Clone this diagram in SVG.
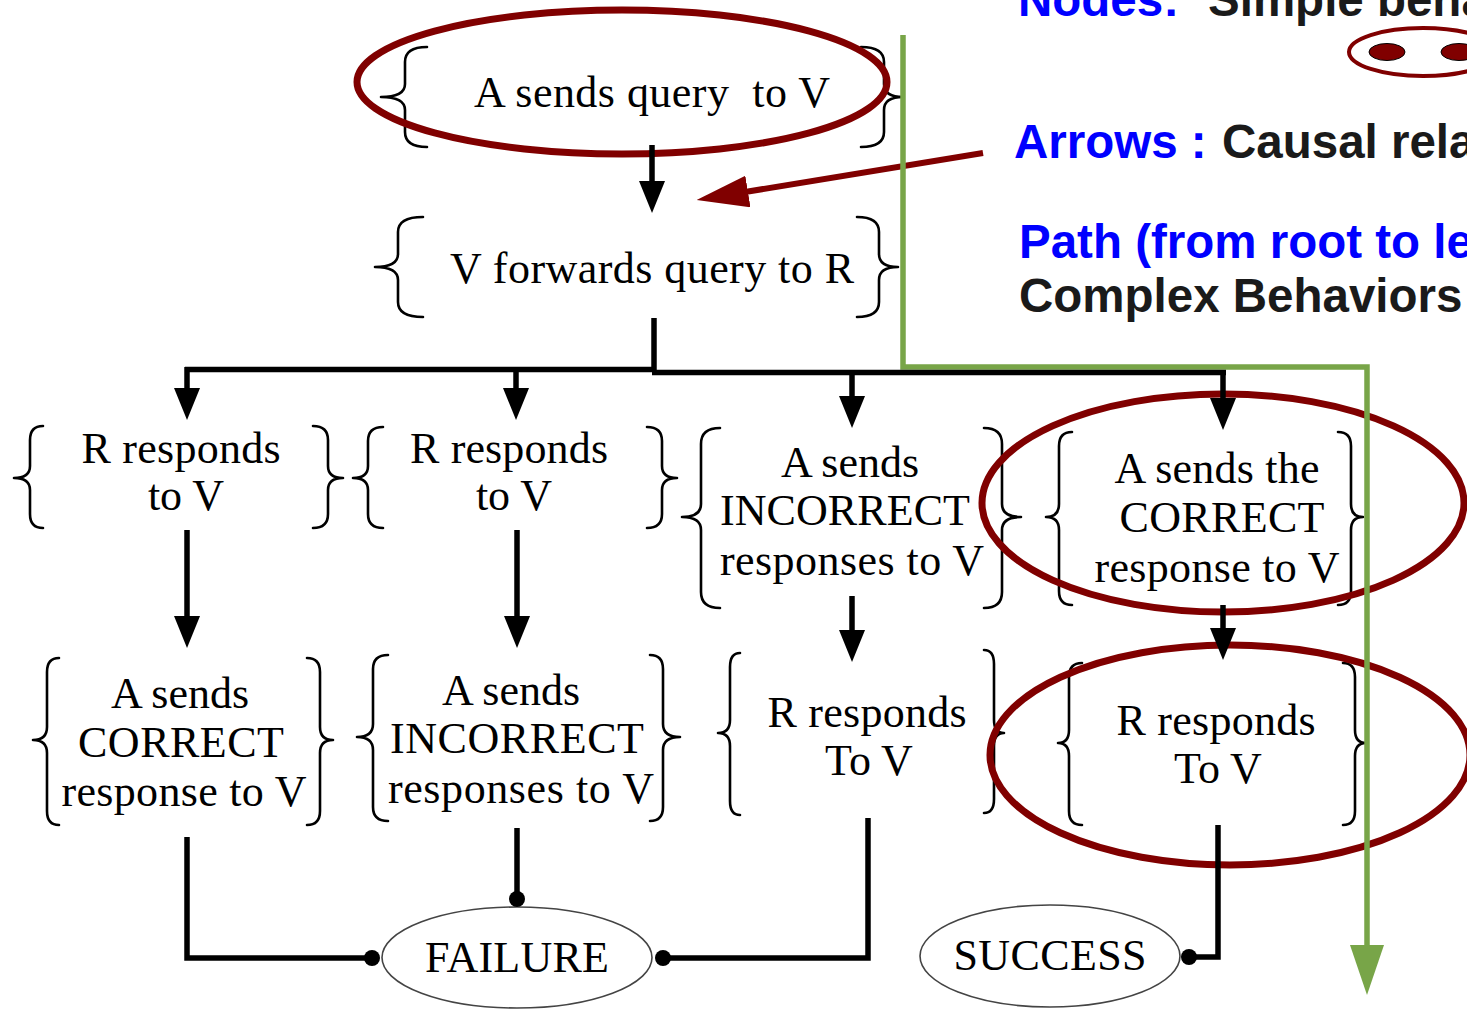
<svg xmlns="http://www.w3.org/2000/svg" width="1467" height="1009" viewBox="0 0 1467 1009">
  <style>
    .lbl { font-family: "Liberation Serif", "Times New Roman", serif; font-size: 44px; fill: #000; text-anchor: middle; }
    .brace { fill: none; stroke: #000; stroke-width: 2.6; stroke-linecap: round; stroke-linejoin: round; }
    .edge { fill: none; stroke: #000; stroke-width: 5.5; }
    .arrow { marker-end: url(#head); }
    .term { fill: #fff; stroke: #444; stroke-width: 1.6; }
    .dot { fill: #000; }
    .ring { fill: none; stroke: #800000; stroke-width: 7; }
    .key { font-family: "Liberation Sans", Arial, sans-serif; font-weight: bold; font-size: 47.5px; }
    .blue { fill: #0000ff; }
    .dark { fill: #1a1a1a; }
  </style>
  <defs>
    <marker id="head" markerUnits="userSpaceOnUse" markerWidth="32" markerHeight="26" viewBox="0 0 32 26" refX="4" refY="13" orient="auto">
      <path d="M0,0 L32,13 L0,26 Z" fill="#000"/>
    </marker>
    <marker id="redhead" markerUnits="userSpaceOnUse" markerWidth="52" markerHeight="32" viewBox="0 0 52 32" refX="6" refY="16" orient="auto">
      <path d="M0,0 L52,16 L0,32 Z" fill="#800000"/>
    </marker>
    <marker id="greenhead" markerUnits="userSpaceOnUse" markerWidth="50" markerHeight="34" viewBox="0 0 50 34" refX="4" refY="17" orient="auto">
      <path d="M0,0 L50,17 L0,34 Z" fill="#78a548"/>
    </marker>
  </defs>

  <rect width="1467" height="1009" fill="#fff"/>

  <!-- legend -->
  <g id="legend">
    <text class="key blue" x="1018" y="16">Nodes:</text>
    <text class="key dark" x="1208" y="16">Simple beha</text>
    <ellipse cx="1423" cy="52" rx="74" ry="24" fill="none" stroke="#800000" stroke-width="4"/>
    <ellipse cx="1387" cy="52" rx="18" ry="8.5" fill="#800000" stroke="#000" stroke-width="1"/>
    <ellipse cx="1459" cy="52" rx="18" ry="8.5" fill="#800000" stroke="#000" stroke-width="1"/>
    <text class="key blue" x="1014" y="158">Arrows :</text>
    <text class="key dark" x="1222" y="158">Causal rela</text>
    <text class="key blue" x="1019" y="258">Path (from root to le</text>
    <text class="key dark" x="1019" y="312">Complex Behaviors</text>
  </g>

  <!-- nodes -->
  <g id="n-query">
    <path class="brace" d="M427,47 Q405,47 405,62 L405,84 Q405,97 381,97 Q405,97 405,110 L405,132 Q405,147 427,147"/>
    <path class="brace" d="M861,47 Q884,47 884,62 L884,84 Q884,97 903,97 Q884,97 884,110 L884,132 Q884,147 861,147"/>
    <text class="lbl" x="652" y="107" textLength="356" xml:space="preserve">A sends query  to V</text>
  </g>

  <g id="n-forward">
    <path class="brace" d="M423,217 Q398,217 398,232 L398,254 Q398,267 375,267 Q398,267 398,280 L398,302 Q398,317 423,317"/>
    <path class="brace" d="M857,217 Q879,217 879,232 L879,254 Q879,267 898,267 Q879,267 879,280 L879,302 Q879,317 857,317"/>
    <text class="lbl" x="652" y="283" textLength="404">V forwards query to R</text>
  </g>

  <g id="n-resp-a">
    <path class="brace" d="M43,426 Q30,426 30,440 L30,466 Q30,478 14,478 Q30,478 30,490 L30,514 Q30,528 43,528"/>
    <path class="brace" d="M313,426 Q328,426 328,440 L328,466 Q328,478 343,478 Q328,478 328,490 L328,514 Q328,528 313,528"/>
    <text class="lbl" x="181" y="463" textLength="199">R responds</text>
    <text class="lbl" x="186" y="510">to V</text>
  </g>

  <g id="n-resp-b">
    <path class="brace" d="M383,427 Q368,427 368,441 L368,466 Q368,478 353,478 Q368,478 368,490 L368,514 Q368,528 383,528"/>
    <path class="brace" d="M647,427 Q662,427 662,441 L662,466 Q662,478 677,478 Q662,478 662,490 L662,514 Q662,528 647,528"/>
    <text class="lbl" x="509" y="463" textLength="198">R responds</text>
    <text class="lbl" x="514" y="510">to V</text>
  </g>

  <g id="n-incorrect-a">
    <path class="brace" d="M720,428 Q701,428 701,444 L701,504 Q701,517 682,517 Q701,517 701,530 L701,592 Q701,608 720,608"/>
    <path class="brace" d="M984,428 Q1002,428 1002,444 L1002,504 Q1002,517 1021,517 Q1002,517 1002,530 L1002,592 Q1002,608 984,608"/>
    <text class="lbl" x="850" y="477">A sends</text>
    <text class="lbl" x="845" y="525" textLength="250">INCORRECT</text>
    <text class="lbl" x="852" y="575" textLength="264">responses to V</text>
  </g>

  <g id="n-correct-a">
    <path class="brace" d="M1072,432 Q1059,432 1059,446 L1059,504 Q1059,517 1046,517 Q1059,517 1059,530 L1059,591 Q1059,605 1072,605"/>
    <path class="brace" d="M1338,432 Q1351,432 1351,446 L1351,504 Q1351,517 1363,517 Q1351,517 1351,530 L1351,591 Q1351,605 1338,605"/>
    <text class="lbl" x="1217" y="483" textLength="205">A sends the</text>
    <text class="lbl" x="1222" y="532" textLength="205">CORRECT</text>
    <text class="lbl" x="1217" y="582" textLength="245">response to V</text>
  </g>

  <g id="n-correct-b">
    <path class="brace" d="M59,658 Q47,658 47,672 L47,727 Q47,740 33,740 Q47,740 47,753 L47,811 Q47,825 59,825"/>
    <path class="brace" d="M307,658 Q320,658 320,672 L320,727 Q320,740 333,740 Q320,740 320,753 L320,811 Q320,825 307,825"/>
    <text class="lbl" x="180" y="708">A sends</text>
    <text class="lbl" x="181" y="757" textLength="206">CORRECT</text>
    <text class="lbl" x="184" y="806" textLength="245">response to V</text>
  </g>

  <g id="n-incorrect-b">
    <path class="brace" d="M388,655 Q373,655 373,669 L373,724 Q373,737 357,737 Q373,737 373,750 L373,807 Q373,821 388,821"/>
    <path class="brace" d="M650,655 Q663,655 663,669 L663,724 Q663,737 680,737 Q663,737 663,750 L663,807 Q663,821 650,821"/>
    <text class="lbl" x="511" y="705">A sends</text>
    <text class="lbl" x="517" y="753" textLength="254">INCORRECT</text>
    <text class="lbl" x="521" y="803" textLength="266">responses to V</text>
  </g>

  <g id="n-resp-c">
    <path class="brace" d="M740,653 Q730,653 730,667 L730,720 Q730,733 718,733 Q730,733 730,746 L730,801 Q730,815 740,815"/>
    <path class="brace" d="M984,650 Q994,650 994,664 L994,720 Q994,733 1004,733 Q994,733 994,746 L994,799 Q994,813 984,813"/>
    <text class="lbl" x="867" y="727" textLength="199">R responds</text>
    <text class="lbl" x="869" y="775">To V</text>
  </g>

  <g id="n-resp-d">
    <path class="brace" d="M1082,663 Q1069,663 1069,677 L1069,730 Q1069,743 1058,743 Q1069,743 1069,756 L1069,811 Q1069,825 1082,825"/>
    <path class="brace" d="M1343,663 Q1355,663 1355,677 L1355,730 Q1355,743 1366,743 Q1355,743 1355,756 L1355,811 Q1355,825 1343,825"/>
    <text class="lbl" x="1216" y="735" textLength="199">R responds</text>
    <text class="lbl" x="1218" y="783">To V</text>
  </g>

  <g id="n-failure">
    <ellipse class="term" cx="517" cy="957.5" rx="135" ry="50.5"/>
    <text class="lbl" x="517" y="972" textLength="184">FAILURE</text>
  </g>

  <g id="n-success">
    <ellipse class="term" cx="1050" cy="956" rx="130" ry="51"/>
    <text class="lbl" x="1050" y="970" textLength="193">SUCCESS</text>
  </g>

  <!-- highlight rings and pointer -->
  <g id="highlights">
    <ellipse class="ring" cx="622" cy="82" rx="265" ry="72"/>
    <ellipse class="ring" cx="1223" cy="503" rx="241" ry="109"/>
    <ellipse class="ring" cx="1230" cy="755" rx="240" ry="110"/>
    <line x1="983" y1="153" x2="742" y2="192.5" stroke="#800000" stroke-width="6" marker-end="url(#redhead)"/>
  </g>

  <!-- causal path -->
  <g id="path-trace">
    <path d="M903,35 V367 H1367 V949" fill="none" stroke="#78a548" stroke-width="5.5" marker-end="url(#greenhead)"/>
  </g>

  <!-- connectors -->
  <g id="connectors">
    <path class="edge arrow" d="M652,145 V185"/>
    <path class="edge" d="M654,318 V370"/>
    <path class="edge" d="M185,369.5 H656"/>
    <path class="edge" d="M652,372.5 H1226"/>
    <path class="edge arrow" d="M187,367 V392"/>
    <path class="edge arrow" d="M516,367 V392"/>
    <path class="edge arrow" d="M852,372 V400"/>
    <path class="edge arrow" d="M1223,372 V402"/>
    <path class="edge arrow" d="M187,530 V620"/>
    <path class="edge arrow" d="M517,530 V620"/>
    <path class="edge arrow" d="M852,596 V634"/>
    <path class="edge arrow" d="M1223,605 V632"/>
    <path class="edge" d="M187,837 V958 H372"/>
    <path class="edge" d="M517,828 V899"/>
    <path class="edge" d="M868,818 V958 H663"/>
    <path class="edge" d="M1218,825 V957 H1189"/>
    <circle class="dot" cx="372" cy="958" r="8"/>
    <circle class="dot" cx="517" cy="899" r="8"/>
    <circle class="dot" cx="663" cy="958" r="8"/>
    <circle class="dot" cx="1189" cy="957" r="8"/>
  </g>
</svg>
